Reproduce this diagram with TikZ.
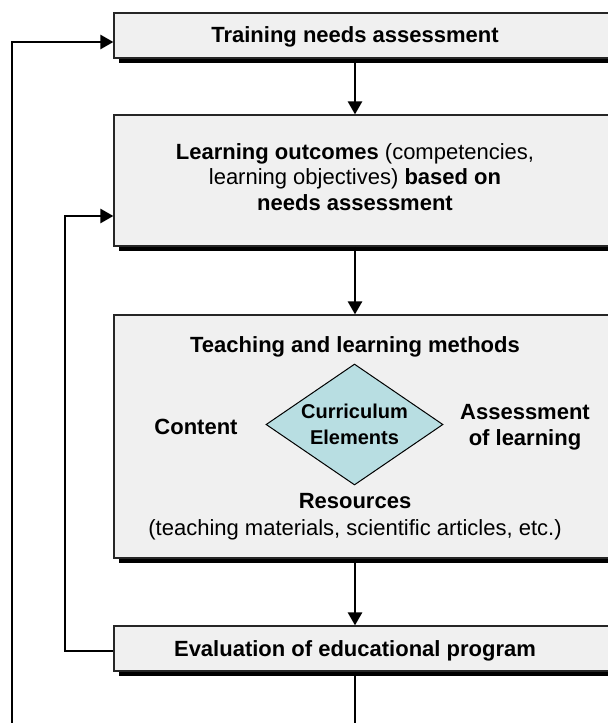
\documentclass[tikz,border=0pt]{standalone}
\usepackage{fontspec}
\setmainfont{Liberation Sans}
\usetikzlibrary{arrows.meta,shapes.geometric,shadows}
\definecolor{boxgray}{RGB}{240,240,240}
\definecolor{diamondblue}{RGB}{184,222,226}

\begin{document}
\begin{tikzpicture}[x=0.5pt, y=-0.5pt,
        stagebox/.style={draw=black!85, line width=0.6pt, fill=boxgray, minimum width=263pt, inner sep=0pt,
            drop shadow={shadow xshift=2.5pt, shadow yshift=-2.5pt, fill=black, opacity=1}},
        boxtext/.style={font=\fontsize{11}{12.6}\selectfont\bfseries, align=center, inner sep=0pt},
        flow/.style={line width=1.3pt, -{Triangle[length=6.5pt, width=7pt]}}]

        % Keep the frame of the picture
        \clip (0,0) rectangle (608,723);

        % Draw the four stages (they run off the right edge)
        \node[stagebox, minimum height=22.5pt] (tna) at (377,35.5) {};
        \node[stagebox, minimum height=65.5pt] (outcomes) at (377,180.5) {};
        \node[stagebox, minimum height=121.5pt] (methods) at (377,436.5) {};
        \node[stagebox, minimum height=22.5pt] (evaluation) at (377,648.5) {};

        % Texts of the stages
        \node[boxtext] (tnatext) at (355,37) {Training needs assessment};
        \node[boxtext] (outcomestext) at (355,177) {Learning outcomes \textnormal{(competencies,}\\
            \textnormal{learning objectives)} based on\\ needs assessment};
        \node[boxtext] (methodstext) at (355,347) {Teaching and learning methods};
        \node[boxtext] (evaltext) at (355,651) {Evaluation of educational program};

        % Curriculum elements inside the third stage
        \node[diamond, draw=black, line width=0.5pt, fill=diamondblue, aspect=1.46,
            minimum width=88.5pt, minimum height=60.5pt, inner sep=0pt, align=center,
            font=\fontsize{10}{13}\selectfont\bfseries] (elements) at (354.5,424.5) {Curriculum\\Elements};
        \node[boxtext] (content) at (196,427) {Content};
        \node[boxtext, font=\fontsize{11}{13}\selectfont\bfseries] (assessment) at (525,427) {Assessment\\of learning};
        \node[boxtext] (resources) at (355,501) {Resources};
        \node[boxtext, font=\fontsize{11}{12.6}\selectfont] (materials) at (355,530) {(teaching materials, scientific articles, etc.)};

        % Arrows down the column
        \foreach \a/\b in {tna/outcomes, outcomes/methods, methods/evaluation} {
            \draw[flow] (\a.south -| tnatext) -- (\b.north -| tnatext);
        }

        % Feedback loops
        \coordinate (outerloop) at (12,740);
        \coordinate (innerloop) at (65,651);
        \draw[flow] (evaluation.south -| evaltext) -- (evaltext |- outerloop) -- (outerloop)
            |- ([yshift=-3.25pt]tna.west);
        \draw[flow] (evaluation.west |- innerloop) -- (innerloop) |- ([yshift=-17.75pt]outcomes.west);
    \end{tikzpicture}
\end{document}
